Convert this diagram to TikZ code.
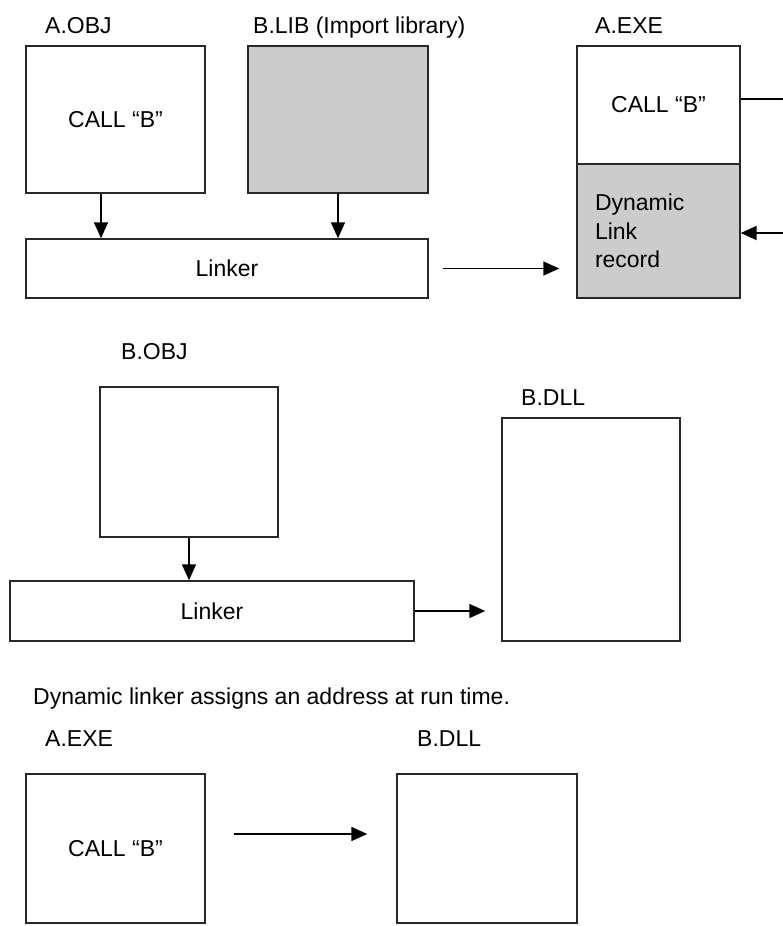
\documentclass[tikz,border=0pt]{standalone}
\usepackage{fontspec}
\setmainfont{Liberation Sans}
\usetikzlibrary{arrows.meta,positioning}
\definecolor{libgray}{RGB}{204,204,204}
\definecolor{edgegray}{RGB}{40,40,40}

\begin{document}
\begin{tikzpicture}[x=1pt,y=-1pt,
	font=\fontsize{23}{28.5}\selectfont,
	box/.style={draw=edgegray,line width=1.4pt,inner sep=0pt},
	lbl/.style={anchor=base west,inner sep=0pt},
	arr/.style={-{Triangle[length=16pt,width=14pt]},line width=1.4pt}]
	\useasboundingbox (0,0) rectangle (783,926);
	% static link of A against the import library
	\node[lbl] (aobjlbl) at (45,33) {A.OBJ};
	\node[lbl] (bliblbl) at (253,33) {B.LIB (Import library)};
	\node[lbl] (aexelbl) at (595,33) {A.EXE};
	\node[box,minimum width=179,minimum height=147] (aobj) at (115.5,119.5) {CALL “B”};
	\node[box,fill=libgray,minimum width=180,minimum height=147] (blib) at (338,119.5) {};
	\node[box,minimum width=402,minimum height=59] (linkA) at (227,268.5) {Linker};
	\node[box,minimum width=163,minimum height=118] (aexe) at (658.5,105) {CALL “B”};
	\node[box,fill=libgray,minimum width=163,minimum height=134,
		text width=127,inner xsep=18,align=left] (dynrec) at (658.5,231) {Dynamic\\Link\\record};
	\coordinate (rimout) at (783,99);
	\coordinate (rimin) at (783,233);
	\path[arr]
	([xshift=-14.5pt]aobj.south) edge ([xshift=-14.5pt]aobj.south |- linkA.north)
	(blib.south) edge (blib.south |- linkA.north)
	(linkA.east) edge[shorten <=14pt,shorten >=17pt] (linkA.east -| dynrec.west)
	(rimin) edge[line width=2pt] (dynrec.east |- rimin);
	\draw[line width=2pt] (aexe.east |- rimout) -- (rimout);
	% building the DLL
	\node[lbl] (bobjlbl) at (121,359) {B.OBJ};
	\node[lbl] (bdlllbl) at (521,405) {B.DLL};
	\node[box,minimum width=178,minimum height=150] (bobj) at (189,462) {};
	\node[box,minimum width=404,minimum height=60] (linkB) at (212,611) {Linker};
	\node[box,minimum width=178,minimum height=223] (bdll) at (591,529.5) {};
	\path[arr]
	(bobj.south) edge (bobj.south |- linkB.north)
	(linkB.east) edge[shorten >=16pt] (linkB.east -| bdll.west);
	% run time
	\node[lbl] (note) at (33,704) {Dynamic linker assigns an address at run time.};
	\node[lbl] (rexelbl) at (45,746) {A.EXE};
	\node[lbl] (rdlllbl) at (417,746) {B.DLL};
	\node[box,minimum width=179,minimum height=149] (rexe) at (115.5,848.5) {CALL “B”};
	\node[box,minimum width=180,minimum height=149] (rdll) at (487,848.5) {};
	\path[arr]
	([yshift=14.5pt]rexe.east) edge[shorten <=28pt,shorten >=29pt] ([yshift=14.5pt]rdll.west);
\end{tikzpicture}
\end{document}
